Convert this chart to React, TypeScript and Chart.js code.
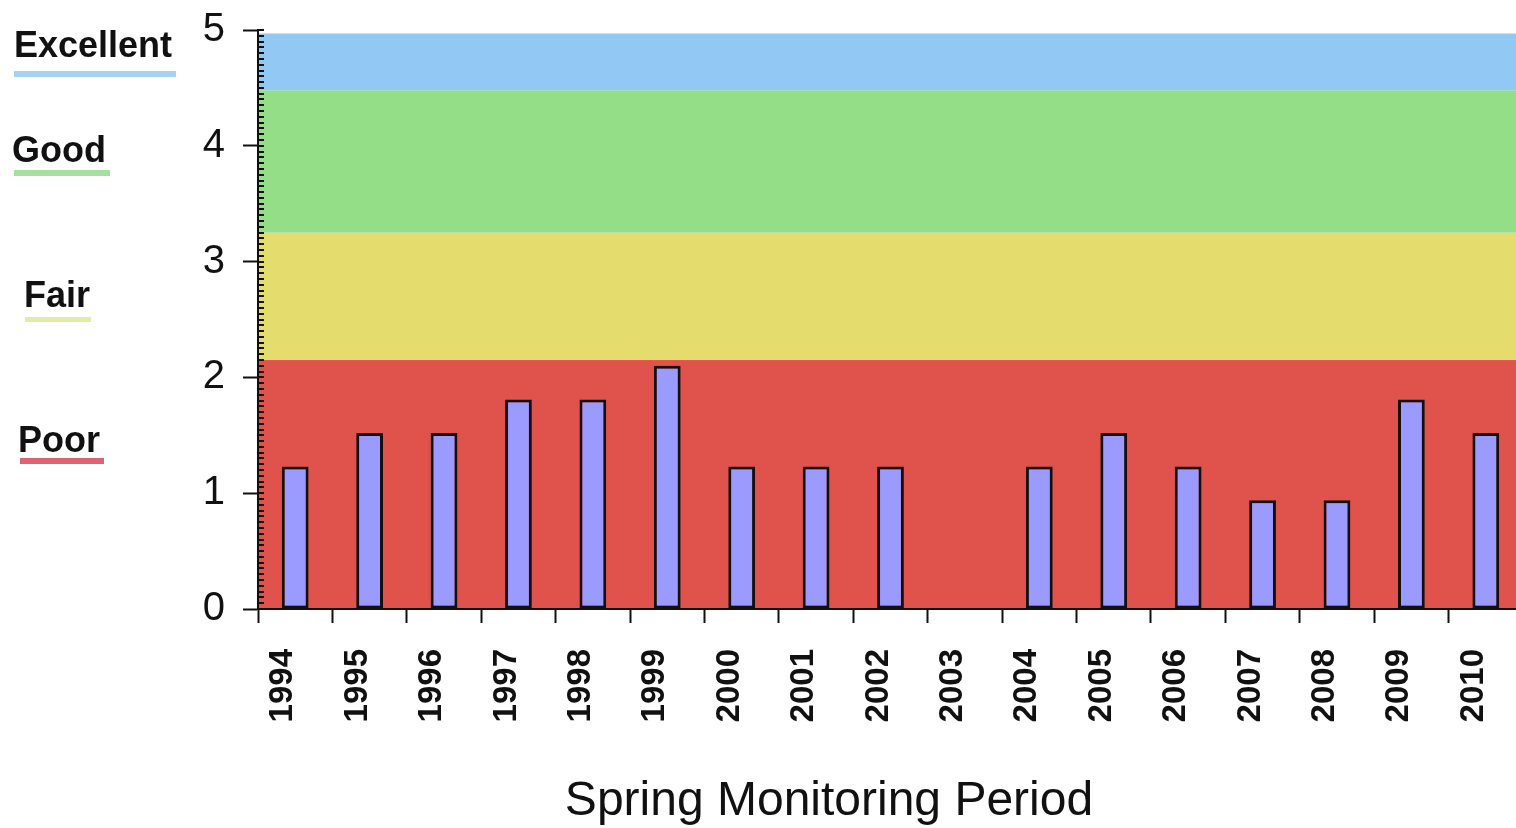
import React, { useEffect, useRef } from "react";
import { Chart, registerables } from "chart.js";

Chart.register(...registerables);

const years = ["1994", "1995", "1996", "1997", "1998", "1999", "2000", "2001", "2002", "2003", "2004", "2005", "2006", "2007", "2008", "2009", "2010"];
const scores: (number | null)[] = [1.23, 1.52, 1.52, 1.81, 1.81, 2.1, 1.23, 1.23, 1.23, null, 1.23, 1.52, 1.23, 0.94, 0.94, 1.81, 1.52];

const bandNames = ["Poor", "Fair", "Good", "Excellent"];
const bandLow = [0, 2.15, 3.25, 4.48];
const bandHigh = [2.15, 3.25, 4.48, 4.97];
const bandColors = ["#e0524c", "#e4dc6c", "#94de88", "#92c8f4"];
const underlineColors = ["#e06272", "#e2eca8", "#a6e0a0", "#a8d0f0"];

const xTitle = "Spring Monitoring Period";

const FONT = "'Liberation Sans', Arial, sans-serif";

const bandsPlugin = {
  id: "bands",
  beforeDraw(chart: any) {
    const { ctx, chartArea } = chart;
    const y = chart.scales.y;
    ctx.save();
    for (let i = 0; i < bandLow.length; i++) {
      const top = y.getPixelForValue(bandHigh[i]);
      const bot = y.getPixelForValue(bandLow[i]);
      ctx.fillStyle = bandColors[i];
      ctx.fillRect(chartArea.left, top, chartArea.right - chartArea.left, bot - top);
    }
    ctx.restore();
  },
  afterDraw(chart: any) {
    const { ctx, chartArea } = chart;
    const y = chart.scales.y;
    ctx.save();
    // minor ticks on y axis
    ctx.strokeStyle = "#111";
    ctx.lineWidth = 2;
    for (let k = 0; k <= 100; k++) {
      const py = Math.round(y.getPixelForValue(k * 0.05));
      ctx.beginPath();
      ctx.moveTo(chartArea.left, py);
      ctx.lineTo(chartArea.left + 6, py);
      ctx.stroke();
    }
    // rating labels at left
    const labelPos: Record<string, [number, number, number, number, number]> = {
      // x, baseline, underline x, underline y, underline width
      Excellent: [14, 57, 14, 71, 162],
      Good: [12, 162, 14, 170, 96],
      Fair: [24, 307, 25, 317, 66],
      Poor: [18, 452, 20, 458, 84],
    };
    ctx.textAlign = "left";
    ctx.textBaseline = "alphabetic";
    ctx.font = `bold 36px ${FONT}`;
    for (let i = 0; i < bandNames.length; i++) {
      const name = bandNames[i];
      const [tx, ty, ux, uy, uw] = labelPos[name];
      ctx.fillStyle = underlineColors[i];
      ctx.fillRect(ux, uy, uw, i === 1 ? 5 : 6);
      ctx.fillStyle = "#111";
      ctx.fillText(name, tx, ty);
    }
    // x-axis title
    ctx.font = `48px ${FONT}`;
    ctx.textAlign = "center";
    ctx.textBaseline = "middle";
    ctx.fillStyle = "#111";
    ctx.fillText(xTitle, 829, 802);
    ctx.restore();
  },
};

export default function App() {
  const ref = useRef<HTMLCanvasElement | null>(null);
  useEffect(() => {
    document.body.style.overflow = "hidden";
    document.body.style.background = "#ffffff";
    const canvas = ref.current!;
    const chart = new Chart(canvas, {
      type: "bar",
      data: {
        labels: years,
        datasets: [
          {
            data: scores as any,
            backgroundColor: "#9a9aff",
            borderColor: "#111",
            borderWidth: 3,
            borderSkipped: false,
            barPercentage: 0.36,
            categoryPercentage: 1,
          },
        ],
      },
      options: {
        responsive: false,
        animation: false,
        devicePixelRatio: 1,
        layout: { padding: { top: 30, left: 0, right: 2, bottom: 0 } },
        plugins: { legend: { display: false }, tooltip: { enabled: false }, title: { display: false } },
        scales: {
          x: {
            offset: true,
            grid: { display: true, drawOnChartArea: false, offset: true, tickLength: 14, tickWidth: 2, tickColor: "#111", color: "#111" },
            border: { display: true, color: "#111", width: 2 },
            ticks: {
              autoSkip: false,
              minRotation: 90,
              maxRotation: 90,
              padding: 26,
              labelOffset: -12,
              color: "#111",
              font: { family: FONT, size: 33, weight: "bold" },
            },
            afterFit: (s: any) => {
              s.height = 828 - 609;
              s.paddingLeft = 0;
              s.paddingRight = 0;
            },
          },
          y: {
            min: 0,
            max: 5,
            ticks: { stepSize: 1, padding: 18, color: "#111", font: { family: FONT, size: 40 } },
            grid: { display: true, drawOnChartArea: false, tickLength: 15, tickWidth: 2, tickColor: "#111", color: "#111" },
            border: { display: true, color: "#111", width: 2 },
            afterFit: (s: any) => {
              s.width = 258;
              s.paddingTop = 0;
              s.paddingBottom = 0;
            },
          },
        },
      },
      plugins: [bandsPlugin],
    });
    return () => chart.destroy();
  }, []);
  return (
    <div style={{ position: "fixed", left: 0, top: 0, width: 1525, height: 828, overflow: "hidden", background: "#fff" }}>
      <canvas ref={ref} width={1525} height={828} style={{ display: "block", width: 1525, height: 828 }} />
    </div>
  );
}
